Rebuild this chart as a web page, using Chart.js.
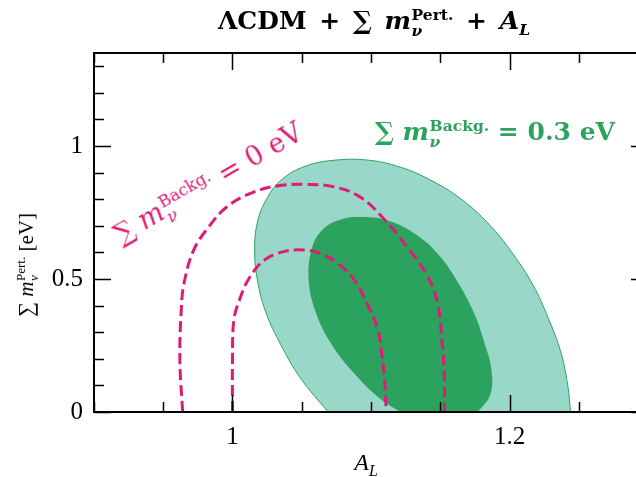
<!DOCTYPE html>
<html lang="en">
<head>
    <meta charset="UTF-8">
    <title>A_L vs sum of neutrino masses</title>
    <style>
        body {
            margin: 0;
            background: #fff;
            overflow: hidden;
        }

        .wrap {
            position: relative;
            width: 636px;
            height: 477px;
            overflow: hidden;
            font-family: "Liberation Serif", "DejaVu Serif", serif;
            color: #000;
        }

        canvas {
            position: absolute;
            left: 0;
            top: 0;
        }

        .txt {
            position: absolute;
            white-space: nowrap;
            line-height: 1;
        }

        .dv { font-family: "DejaVu Serif", serif; }

        /* stacked super/subscript on the same symbol */
        .st {
            display: inline-block;
            font-size: 0.62em;
            line-height: 1;
            vertical-align: -0.42em;
            margin-left: 0.04em;
        }

        .st > span {
            display: block;
        }

        i { font-style: italic; }

        #title { left: 374px; top: 7px; font-size: 25px; font-weight: bold; word-spacing: 4px; transform: translateX(-50%); }
        #xlab { left: 366px; top: 450px; font-size: 24px; transform: translateX(-50%); }
        #ylab { left: 27px; top: 265px; font-size: 21px; transform: translate(-50%, -50%) rotate(-90deg); }
        #lab03 { left: 375px; top: 118px; font-size: 25px; font-weight: bold; color: #2ca25f; }
        #lab0 { left: 125px; top: 219px; font-size: 27px; color: #dd1c77; transform-origin: 0 100%; transform: rotate(-30deg); }
    </style>
</head>
<body>

<div class="wrap">
    <canvas id="grafico" width="660" height="477"></canvas>

    <div class="txt dv" id="title">ΛCDM + ∑ <i>m</i><span class="st"><span>Pert.</span><span><i>ν</i></span></span> + <i>A<sub style="font-size:0.62em">L</sub></i></div>
    <div class="txt" id="xlab"><i>A<sub style="font-size:0.66em">L</sub></i></div>
    <div class="txt" id="ylab">∑ <i>m</i><span class="st"><span>Pert.</span><span><i>ν</i></span></span> [eV]</div>
    <div class="txt dv" id="lab03">∑ <i>m</i><span class="st"><span>Backg.</span><span><i>ν</i></span></span> = 0.3 eV</div>
    <div class="txt dv" id="lab0">∑ <i>m</i><span class="st"><span>Backg.</span><span><i>ν</i></span></span> = 0 eV</div>
</div>

<script src="https://cdn.jsdelivr.net/npm/chart.js"></script>
<script>
    // axis ticks
    const xMajor = [1, 1.2];
    const yMajor = [0, 0.5, 1];
    const xMinorStep = 0.05;
    const yMinorStep = 0.1;

    // sum m_nu^Backg. = 0.3 eV : 95% region (filled, light); last points run below the axis
    const outerAL  = [1.069, 1.049, 1.035, 1.024, 1.018, 1.016, 1.018, 1.025, 1.036, 1.053, 1.074, 1.098, 1.121, 1.143, 1.165, 1.185, 1.202, 1.217, 1.228, 1.237, 1.242, 1.244, 1.245, 1.079];
    const outerMnu = [0.000, 0.128, 0.252, 0.376, 0.496, 0.609, 0.714, 0.805, 0.876, 0.925, 0.947, 0.947, 0.921, 0.872, 0.801, 0.707, 0.598, 0.477, 0.353, 0.226, 0.102, 0.000, -0.07, -0.07];

    // sum m_nu^Backg. = 0.3 eV : 68% region (filled, dark)
    const innerAL  = [1.121, 1.105, 1.087, 1.071, 1.060, 1.055, 1.057, 1.064, 1.077, 1.094, 1.113, 1.132, 1.149, 1.163, 1.175, 1.182, 1.187, 1.186, 1.177, 1.169, 1.135];
    const innerMnu = [0.000, 0.056, 0.150, 0.259, 0.376, 0.496, 0.609, 0.680, 0.722, 0.733, 0.718, 0.669, 0.590, 0.485, 0.365, 0.259, 0.158, 0.064, 0.000, -0.05, -0.05];

    // sum m_nu^Backg. = 0 eV : 95% contour (dashed)
    const zero95AL  = [0.964, 0.962, 0.963, 0.965, 0.972, 0.983, 0.996, 1.013, 1.032, 1.052, 1.073, 1.092, 1.109, 1.126, 1.141, 1.148, 1.151, 1.153, 1.153];
    const zero95Mnu = [0.000, 0.195, 0.383, 0.484, 0.609, 0.697, 0.772, 0.822, 0.850, 0.856, 0.847, 0.809, 0.728, 0.621, 0.509, 0.409, 0.283, 0.133, 0.000];

    // sum m_nu^Backg. = 0 eV : 68% contour (dashed)
    const zero68AL  = [1.000, 1.000, 1.001, 1.005, 1.012, 1.023, 1.037, 1.052, 1.063, 1.076, 1.088, 1.097, 1.105, 1.108, 1.110, 1.111];
    const zero68Mnu = [0.000, 0.195, 0.346, 0.421, 0.503, 0.571, 0.603, 0.609, 0.597, 0.559, 0.496, 0.409, 0.308, 0.208, 0.108, 0.000];

    const GREEN_LIGHT = '#99d8c9';
    const GREEN_DARK = '#2ca25f';
    const MAGENTA = '#dd1c77';

    function pontos(xs, ys, fechar) {
        const p = xs.map((x, i) => ({ x: x, y: ys[i] }));
        if (fechar) p.push({ x: xs[0], y: ys[0] });
        return p;
    }

    // spines and inward ticks on all four sides
    const molduraTicks = {
        id: 'molduraTicks',
        afterDraw(chart) {
            const { ctx, chartArea: a, scales: { x, y } } = chart;
            const near = (v, arr) => arr.some(m => Math.abs(m - v) < 1e-6);
            ctx.save();
            ctx.strokeStyle = '#000';
            ctx.lineWidth = 1.5;
            ctx.beginPath();
            for (let i = 0; x.min + i * xMinorStep <= x.max + 1e-9; i++) {
                const v = x.min + i * xMinorStep;
                const px = Math.round(x.getPixelForValue(v)) + 0.5;
                const len = near(v, xMajor) ? 17 : 10;
                ctx.moveTo(px, a.bottom); ctx.lineTo(px, a.bottom - len);
                ctx.moveTo(px, a.top); ctx.lineTo(px, a.top + len);
            }
            for (let i = 0; y.min + i * yMinorStep <= y.max + 1e-9; i++) {
                const v = y.min + i * yMinorStep;
                const py = Math.round(y.getPixelForValue(v)) + 0.5;
                const len = near(v, yMajor) ? 17 : 10;
                ctx.moveTo(a.left, py); ctx.lineTo(a.left + len, py);
                ctx.moveTo(a.right, py); ctx.lineTo(a.right - len, py);
            }
            ctx.stroke();
            ctx.lineWidth = 2;
            ctx.strokeRect(a.left, a.top, a.right - a.left, a.bottom - a.top);
            ctx.restore();
        }
    };

    const fonteTicks = { family: '"Liberation Serif", "DejaVu Serif", serif', size: 25 };

    new Chart(document.getElementById('grafico').getContext('2d'), {
        type: 'scatter',
        data: {
            datasets: [
                {
                    label: '0 eV 95%',
                    data: pontos(zero95AL, zero95Mnu, false),
                    showLine: true, fill: false, tension: 0.4,
                    borderColor: MAGENTA, borderWidth: 3, borderDash: [11, 5],
                    pointRadius: 0, order: 0
                },
                {
                    label: '0 eV 68%',
                    data: pontos(zero68AL, zero68Mnu, false),
                    showLine: true, fill: false, tension: 0.4,
                    borderColor: MAGENTA, borderWidth: 3, borderDash: [11, 5],
                    pointRadius: 0, order: 0
                },
                {
                    label: '0.3 eV 68%',
                    data: pontos(innerAL, innerMnu, true),
                    showLine: true, fill: 'shape', tension: 0.4,
                    backgroundColor: GREEN_DARK, borderColor: GREEN_DARK, borderWidth: 0,
                    pointRadius: 0, order: 1
                },
                {
                    label: '0.3 eV 95%',
                    data: pontos(outerAL, outerMnu, true),
                    showLine: true, fill: 'shape', tension: 0.4,
                    backgroundColor: GREEN_LIGHT, borderColor: GREEN_DARK, borderWidth: 1,
                    pointRadius: 0, order: 2
                }
            ]
        },
        options: {
            responsive: false,
            animation: false,
            devicePixelRatio: 1,
            layout: { padding: { left: 0, top: 53, right: 12, bottom: 0 } },
            plugins: { legend: { display: false }, tooltip: { enabled: false } },
            scales: {
                x: {
                    type: 'linear', min: 0.9, max: 1.3,
                    grid: { display: false, drawTicks: false },
                    border: { display: false },
                    ticks: { font: fonteTicks, color: '#000', padding: 10, autoSkip: false, maxRotation: 0,
                             callback: v => String(v) },
                    afterBuildTicks: s => { s.ticks = xMajor.map(v => ({ value: v })); },
                    afterFit: s => { s.height = 65; }
                },
                y: {
                    type: 'linear', min: 0, max: 1.35,
                    grid: { display: false, drawTicks: false },
                    border: { display: false },
                    ticks: { font: fonteTicks, color: '#000', padding: 11, autoSkip: false,
                             callback: v => String(v) },
                    afterBuildTicks: s => { s.ticks = yMajor.map(v => ({ value: v })); },
                    afterFit: s => { s.width = 94; }
                }
            }
        },
        plugins: [molduraTicks]
    });
</script>

</body>
</html>
